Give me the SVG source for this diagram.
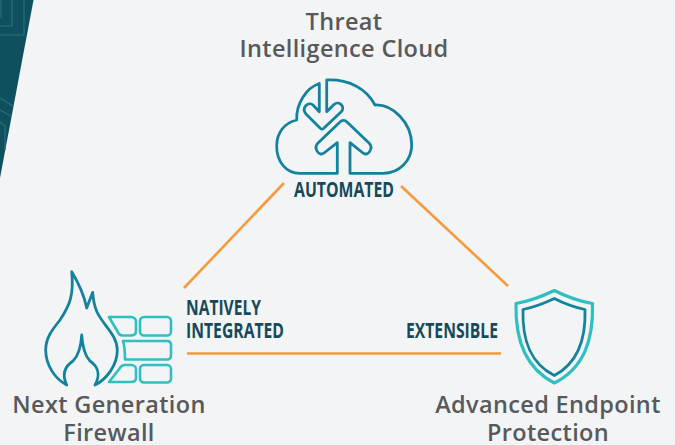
<svg xmlns="http://www.w3.org/2000/svg" width="675" height="445" viewBox="0 0 675 445">
<style>
.t{font-family:"Open Sans","Liberation Sans",sans-serif;font-weight:600;font-size:23.500px;letter-spacing:.35px;fill:#58595b;text-anchor:middle}
.l{font-family:"Open Sans","Liberation Sans",sans-serif;font-weight:700;font-size:20.500px;fill:#17495a}
.o{fill:none;stroke:#f79a3e;stroke-width:2.6}
.b{fill:none;stroke:#14829f;stroke-width:2.8;stroke-linejoin:round}
.c{fill:none;stroke:#2fbfc0;stroke-width:2.6;stroke-linejoin:round}
.p{fill:none;stroke:#2a6f7c;stroke-width:1.2}
</style>
<rect width="675" height="445" fill="#f2f4f6"/>
<g id="corner">
<polygon points="0,0 33.500,0 0,178" fill="#0f505e"/>
<path class="p" d="M1,0V18M12,0V26H0M24,0V35H0M0,98L13,106M0,110L11,116M0,122L5,126V150"/>
</g>
<g id="connectors">
<line class="o" x1="184" y1="288" x2="284" y2="183"/>
<line class="o" x1="401" y1="186" x2="508" y2="286"/>
<line class="o" x1="187" y1="353.500" x2="501" y2="353.500"/>
</g>
<g id="cloud">
<path class="b" d="M319.300,83.500C306,88 296,104 296.700,120C284,123 276.700,133 276.700,146C276.700,162 286,173.300 300,173.300H337.300V142.700L324,153C319,157 313,148 318,143L340,122C342,120 345,120 347,122L369,143C374,148 368,157 363,153L350,142.700V173.300H383C400,173.300 411.700,160 411.700,145C411.700,122 392,104 375,105C366,88 348,79 326.700,80V111.700L334,104.500C339,100 346,107 341,112L324,128C323,129.500 321,129.500 320,128L306,114C301,108 308,101 313,105L319.300,111.700Z"/>
</g>
<g id="firewall">
<path class="b" d="M71.700,271.700C74,295 70,305 60,320C52,330 45.700,338 45.700,350C45.700,365 55,379 66.700,385C62,375 64,367 73,361C78,356 81,347 81.700,335C82.500,347 85,356 90,361C99,367 100,376 95,385C107,379 117.300,365 117.300,350C117.300,335 103,325 97,312C94,305 93,298 92.700,292.300L86.700,308C84,295 78,282 71.700,271.700Z"/>
<path class="c" d="M109,317H131C134,317 136,319 136,322V331C136,334 134,335.500 131,335.500H123C121,335.500 120,335 119,334Z"/>
<rect class="c" x="140" y="317" width="31" height="18.500" rx="4"/>
<path class="c" d="M123,341H167C170,341 171,343 171,345V355C171,358 170,359.500 167,359.500H125C125,353 125,347 123,341Z"/>
<path class="c" d="M109,382L120,368C121,366 123,365 125,365H131C134,365 136,367 136,369V378C136,381 134,382 131,382Z"/>
<rect class="c" x="140" y="365" width="31" height="17.500" rx="4"/>
</g>
<g id="shield">
<path d="M554.300,290.500C543,296 530,301 516,303.500C515,340 525,368 554.300,383C584,368 593.500,340 592.500,303.500C578,301 565,296 554.300,290.500Z" fill="none" stroke="#2fbfc0" stroke-width="3.200" stroke-linejoin="round"/>
<path class="b" d="M554.300,298.500C545,303 535,307 523,309.500C522,340 530,363 554.300,375.500C578,363 586,340 585,309.500C573,307 563,303 554.300,298.500Z"/>
</g>
<g id="labels">
<text class="t" x="344" y="30">Threat</text>
<text class="t" x="344" y="57">Intelligence Cloud</text>
<text class="t" x="109" y="413">Next Generation</text>
<text class="t" x="109" y="441">Firewall</text>
<text class="t" x="548" y="413">Advanced Endpoint</text>
<text class="t" x="548" y="441">Protection</text>
<text class="l" x="294" y="197" textLength="100" lengthAdjust="spacingAndGlyphs">AUTOMATED</text>
<text class="l" x="186" y="315" textLength="75" lengthAdjust="spacingAndGlyphs">NATIVELY</text>
<text class="l" x="186" y="338" textLength="98" lengthAdjust="spacingAndGlyphs">INTEGRATED</text>
<text class="l" x="406" y="338" textLength="92" lengthAdjust="spacingAndGlyphs">EXTENSIBLE</text>
</g>
</svg>
